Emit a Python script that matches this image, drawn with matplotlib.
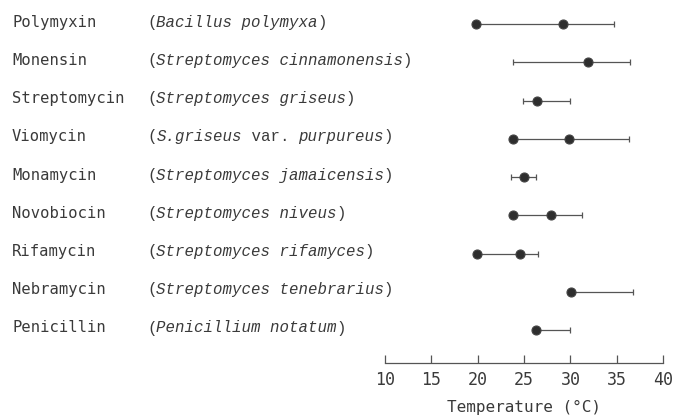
import matplotlib.pyplot as plt
import numpy as np

# antibiotic / producing organism (None = mixed italic entry, handled below)
names = ['Polymyxin', 'Monensin', 'Streptomycin', 'Viomycin', 'Monamycin',
         'Novobiocin', 'Rifamycin', 'Nebramycin', 'Penicillin']
species = ['Bacillus polymyxa', 'Streptomyces cinnamonensis', 'Streptomyces griseus',
           None, 'Streptomyces jamaicensis', 'Streptomyces niveus',
           'Streptomyces rifamyces', 'Streptomyces tenebrarius', 'Penicillium notatum']

# temperature ranges (deg C): low end, high end, and dot positions
range_lo = [19.8, 23.8, 24.9, 23.8, 23.6, 23.8, 19.9, 30.1, 26.3]
range_hi = [34.7, 36.4, 30.0, 36.3, 26.3, 31.2, 26.5, 36.7, 30.0]
dots = [[19.8, 29.2], [31.9], [26.4], [23.8, 29.8], [25.0],
        [23.8, 27.9], [19.9, 24.6], [30.1], [26.3]]

W, H = 673, 415
fig = plt.figure(figsize=(W / 100, H / 100), dpi=100)
ax = fig.add_axes([384.7 / W, 1 - 362.7 / H, (663.3 - 384.7) / W, (362.7 - 5) / H])

txt_col = '#3a3a3a'
line_col = '#555555'
y = np.arange(len(names))

ax.hlines(y, range_lo, range_hi, color=line_col, lw=0.9)
ax.plot(range_lo, y, ls='none', marker='|', ms=5, mew=0.9, color=line_col)
ax.plot(range_hi, y, ls='none', marker='|', ms=5, mew=0.9, color=line_col)
for i, d in enumerate(dots):
    ax.plot(d, [i] * len(d), ls='none', marker='o', ms=6.5, color='#2e2e2e',
            mec='#444444', mew=0.8, zorder=3)

ax.set_xlim(10, 40)
ax.set_ylim(8.855, -0.497)
for s in ['top', 'right', 'left']:
    ax.spines[s].set_visible(False)
ax.spines['bottom'].set_color(line_col)
ax.spines['bottom'].set_linewidth(0.9)
ax.set_yticks([])
ax.set_xticks(np.arange(10, 41, 5))
ax.tick_params(axis='x', direction='in', length=6, width=0.9, color=line_col,
               pad=6, labelsize=12, labelcolor=txt_col)
for lab in ax.get_xticklabels():
    lab.set_family('DejaVu Sans Mono')
ax.set_xlabel('Temperature (°C)', family='DejaVu Sans Mono', fontsize=11.5,
              color=txt_col, labelpad=8)

cw = 9.46  # char width of the species column, px
for i, (n, sp) in enumerate(zip(names, species)):
    ypix = 22 + 38.25 * i
    fig.text(12 / W, 1 - ypix / H, n, family='DejaVu Sans Mono', fontsize=11.2,
             color=txt_col, va='center')
    if sp is None:
        parts = [('(', 'normal'), ('S.griseus', 'italic'), (' var. ', 'normal'),
                 ('purpureus', 'italic'), (')', 'normal')]
    else:
        parts = [('(', 'normal'), (sp, 'italic'), (')', 'normal')]
    x = 147
    for p, st in parts:
        fig.text(x / W, 1 - ypix / H, p, family='Liberation Mono', style=st,
                 fontsize=11.35, color=txt_col, va='center')
        x += len(p) * cw

fig.savefig('out.png', dpi=100)
